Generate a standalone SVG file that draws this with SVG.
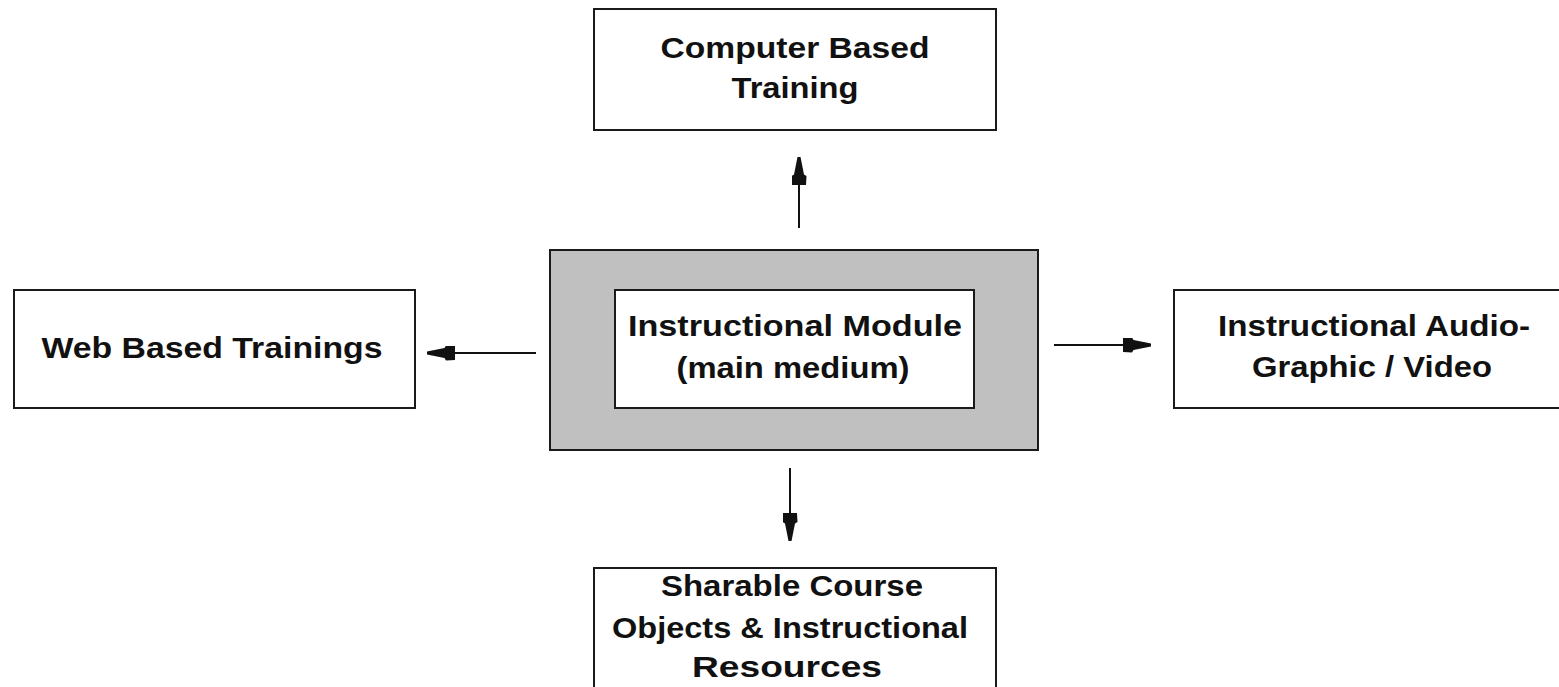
<svg xmlns="http://www.w3.org/2000/svg" width="1559" height="687" viewBox="0 0 1559 687">
  <style>
    .box { fill: #ffffff; stroke: #1a1a1a; stroke-width: 2; }
    .frame { fill: #c0c0c0; stroke: #1a1a1a; stroke-width: 2; }
    .lbl { font-family: "Liberation Sans", Arial, sans-serif; font-weight: bold; font-size: 29px; fill: #111111; text-anchor: middle; }
    .conn { stroke: #111111; stroke-width: 2; fill: none; marker-end: url(#head); }
  </style>
  <defs>
    <!-- blunt, blocky arrowhead: wide shoulder tapering to a narrow tip -->
    <marker id="head" viewBox="0 0 28 15" refX="27" refY="7.5" markerWidth="28" markerHeight="15" markerUnits="userSpaceOnUse" orient="auto">
      <path d="M0,0.5 L9,0 L10.5,2.5 L28,6 L28,9 L10.5,12.5 L9,15 L0,14.5 Z" fill="#111111"/>
    </marker>
  </defs>
  <rect width="1559" height="687" fill="#ffffff"/>

  <g id="center">
    <rect class="frame" x="550" y="250" width="488" height="200"/>
    <rect class="box" x="615" y="290" width="359" height="118"/>
    <text class="lbl" x="795" y="336" textLength="334" lengthAdjust="spacingAndGlyphs">Instructional Module</text>
    <text class="lbl" x="793" y="378" textLength="233" lengthAdjust="spacingAndGlyphs">(main medium)</text>
  </g>

  <g id="cbt">
    <rect class="box" x="594" y="9" width="402" height="121"/>
    <text class="lbl" x="795" y="58" textLength="269" lengthAdjust="spacingAndGlyphs">Computer Based</text>
    <text class="lbl" x="795" y="98" textLength="127" lengthAdjust="spacingAndGlyphs">Training</text>
  </g>

  <g id="wbt">
    <rect class="box" x="14" y="290" width="401" height="118"/>
    <text class="lbl" x="212" y="358" textLength="341" lengthAdjust="spacingAndGlyphs">Web Based Trainings</text>
  </g>

  <g id="av">
    <rect class="box" x="1174" y="290" width="400" height="118"/>
    <text class="lbl" x="1374" y="336" textLength="312" lengthAdjust="spacingAndGlyphs">Instructional Audio-</text>
    <text class="lbl" x="1372" y="377" textLength="240" lengthAdjust="spacingAndGlyphs">Graphic / Video</text>
  </g>

  <g id="sco">
    <rect class="box" x="594" y="568" width="402" height="130"/>
    <text class="lbl" x="792" y="596" textLength="262" lengthAdjust="spacingAndGlyphs">Sharable Course</text>
    <text class="lbl" x="790" y="638" textLength="356" lengthAdjust="spacingAndGlyphs">Objects &amp; Instructional</text>
    <text class="lbl" x="787" y="677" textLength="190" lengthAdjust="spacingAndGlyphs">Resources</text>
  </g>

  <g id="connectors">
    <line class="conn" x1="799" y1="228" x2="799" y2="158"/>
    <line class="conn" x1="536" y1="353" x2="428" y2="353"/>
    <line class="conn" x1="1054" y1="345" x2="1150" y2="345"/>
    <line class="conn" x1="790" y1="468" x2="790" y2="540"/>
  </g>
</svg>
